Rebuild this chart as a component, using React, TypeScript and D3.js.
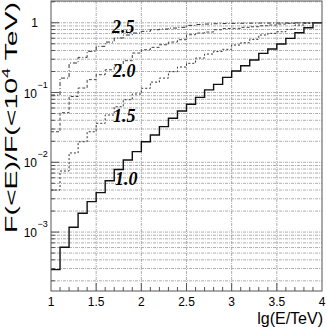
import * as d3 from 'd3';

// lg(E/TeV) left edges of the 0.1 bins
const lgE = [
  1.0, 1.1, 1.2, 1.3, 1.4, 1.5, 1.6, 1.7, 1.8, 1.9,
  2.0, 2.1, 2.2, 2.3, 2.4, 2.5, 2.6, 2.7, 2.8, 2.9,
  3.0, 3.1, 3.2, 3.3, 3.4, 3.5, 3.6, 3.7, 3.8, 3.9,
];

// F(<E)/F(<10^4 TeV) for each spectral index
const frac10 = [
  0.00029, 0.000605, 0.00117, 0.00186, 0.00273, 0.00367, 0.00545, 0.0079, 0.0108, 0.0142,
  0.0197, 0.0246, 0.0324, 0.0427, 0.0543, 0.0678, 0.0853, 0.109, 0.131, 0.165,
  0.203, 0.242, 0.292, 0.364, 0.42, 0.495, 0.598, 0.719, 0.848, 1.0,
];
const frac15 = [
  0.004, 0.0075, 0.0136, 0.0197, 0.0274, 0.0362, 0.0476, 0.0626, 0.0788, 0.0952,
  0.115, 0.141, 0.161, 0.199, 0.232, 0.262, 0.312, 0.356, 0.387, 0.416,
  0.479, 0.517, 0.578, 0.667, 0.705, 0.743, 0.804, 0.927, 0.98, 1.0,
];
const frac20 = [
  0.0274, 0.0514, 0.0877, 0.116, 0.153, 0.18, 0.212, 0.25, 0.286, 0.368,
  0.41, 0.444, 0.484, 0.529, 0.571, 0.673, 0.712, 0.736, 0.794, 0.826,
  0.831, 0.859, 0.876, 0.906, 0.927, 0.958, 0.98, 0.993, 0.997, 1.0,
];
const frac25 = [
  0.092, 0.161, 0.265, 0.319, 0.389, 0.459, 0.529, 0.604, 0.667, 0.712,
  0.753, 0.794, 0.812, 0.839, 0.859, 0.918, 0.942, 0.958, 0.968, 0.974,
  0.98, 0.984, 0.987, 0.99, 0.99, 0.993, 0.993, 0.997, 0.997, 1.0,
];

const curves = [
  { label: '1.0', values: frac10, dash: null, width: 1.4, color: '#111', lx: 115, ly: 185 },
  { label: '1.5', values: frac15, dash: '2,2', width: 1, color: '#333', lx: 113, ly: 122 },
  { label: '2.0', values: frac20, dash: '3,2', width: 1, color: '#444', lx: 113, ly: 77 },
  { label: '2.5', values: frac25, dash: '4,2,1,2', width: 1, color: '#333', lx: 112, ly: 33 },
];

const xTicks = [1, 1.5, 2, 2.5, 3, 3.5, 4];
const yDecades = [
  { v: 1, label: '1', exp: '' },
  { v: 0.1, label: '10', exp: '\u22121' },
  { v: 0.01, label: '10', exp: '\u22122' },
  { v: 0.001, label: '10', exp: '\u22123' },
];

const W = 327;
const H = 327;
const left = 51;
const right = 322;
const top = 1;
const bottom = 291;

export default function App() {
  const x = d3.scaleLinear().domain([1, 4]).range([left, right]);
  const y = d3.scaleLog().domain([1.43e-4, 2.05]).range([bottom, top]);

  // grid values: k * 10^d inside the domain
  const gridVals: number[] = [];
  for (let d = -4; d <= 0; d++) {
    for (let k = 1; k <= 9; k++) {
      const v = k * Math.pow(10, d);
      if (v > 1.43e-4 && v < 2.05) gridVals.push(v);
    }
  }
  const minorX = d3.range(11, 40).map((i) => i / 10);

  const line = d3
    .line<[number, number]>()
    .x((d) => x(d[0]))
    .y((d) => y(d[1]))
    .curve(d3.curveStepAfter);

  const font = "'Liberation Sans', Arial, Helvetica, sans-serif";

  return (
    <svg
      width={W}
      height={H}
      style={{ position: 'absolute', left: 0, top: 0, background: '#fff' }}
      fontFamily={font}
    >
      {/* horizontal grid */}
      {gridVals.map((v, i) => (
        <line
          key={'hg' + i}
          x1={left}
          x2={right}
          y1={y(v)}
          y2={y(v)}
          stroke="#999"
          strokeWidth={0.8}
          strokeDasharray="3,1,1,1"
        />
      ))}
      {/* vertical grid */}
      {xTicks.slice(1, -1).map((t) => (
        <line
          key={'vg' + t}
          x1={x(t)}
          x2={x(t)}
          y1={top}
          y2={bottom}
          stroke="#999"
          strokeWidth={0.8}
          strokeDasharray="3,1,1,1"
        />
      ))}

      {/* curves */}
      {curves.map((c) => {
        const pts: [number, number][] = lgE.map((e, i) => [e, c.values[i]]);
        pts.push([4, c.values[c.values.length - 1]]);
        return (
          <path
            key={c.label}
            d={line(pts) || ''}
            fill="none"
            stroke={c.color}
            strokeWidth={c.width}
            strokeDasharray={c.dash || undefined}
          />
        );
      })}

      {/* curve labels */}
      {curves.map((c) => (
        <text
          key={'l' + c.label}
          x={c.lx}
          y={c.ly}
          fontFamily="'Liberation Serif', 'Times New Roman', serif"
          fontWeight="bold"
          fontStyle="italic"
          fontSize={18}
          fill="#000"
        >
          {c.label}
        </text>
      ))}

      {/* frame */}
      <rect
        x={left}
        y={top}
        width={right - left}
        height={bottom - top}
        fill="none"
        stroke="#555"
        strokeWidth={1}
      />

      {/* x ticks */}
      {minorX.map((t) => (
        <line
          key={'mx' + t}
          x1={x(t)}
          x2={x(t)}
          y1={bottom}
          y2={bottom - (Math.abs(t * 2 - Math.round(t * 2)) < 1e-6 ? 8 : 4)}
          stroke="#555"
        />
      ))}
      {xTicks.map((t) => (
        <text key={'xt' + t} x={x(t)} y={306} fontSize={12} textAnchor="middle" fill="#000">
          {t}
        </text>
      ))}
      <text x={323} y={324} fontSize={16} textAnchor="end" fill="#000">
        lg(E/TeV)
      </text>

      {/* y ticks */}
      {gridVals.map((v, i) => (
        <line
          key={'yt' + i}
          x1={left}
          x2={left + (yDecades.some((d) => Math.abs(d.v - v) < 1e-12) ? 8 : 4)}
          y1={y(v)}
          y2={y(v)}
          stroke="#555"
        />
      ))}
      {yDecades.map((d) =>
        d.exp ? (
          <g key={'yl' + d.v}>
            <text x={37} y={y(d.v) + 5} fontSize={12} textAnchor="end" fill="#000">
              {d.label}
            </text>
            <text x={37.5} y={y(d.v) - 5} fontSize={9} fill="#000">
              {d.exp}
            </text>
          </g>
        ) : (
          <text key={'yl' + d.v} x={38} y={y(d.v) + 4.5} fontSize={12} textAnchor="end" fill="#000">
            {d.label}
          </text>
        )
      )}
      <text
        transform="translate(17,233) rotate(-90)"
        fontSize={16}
        textLength={231}
        lengthAdjust="spacingAndGlyphs"
        fill="#000"
      >
        F(&lt;E)/F(&lt;10
        <tspan fontSize={10} dy={-7}>
          4
        </tspan>
        <tspan dy={7}> TeV)</tspan>
      </text>
    </svg>
  );
}
